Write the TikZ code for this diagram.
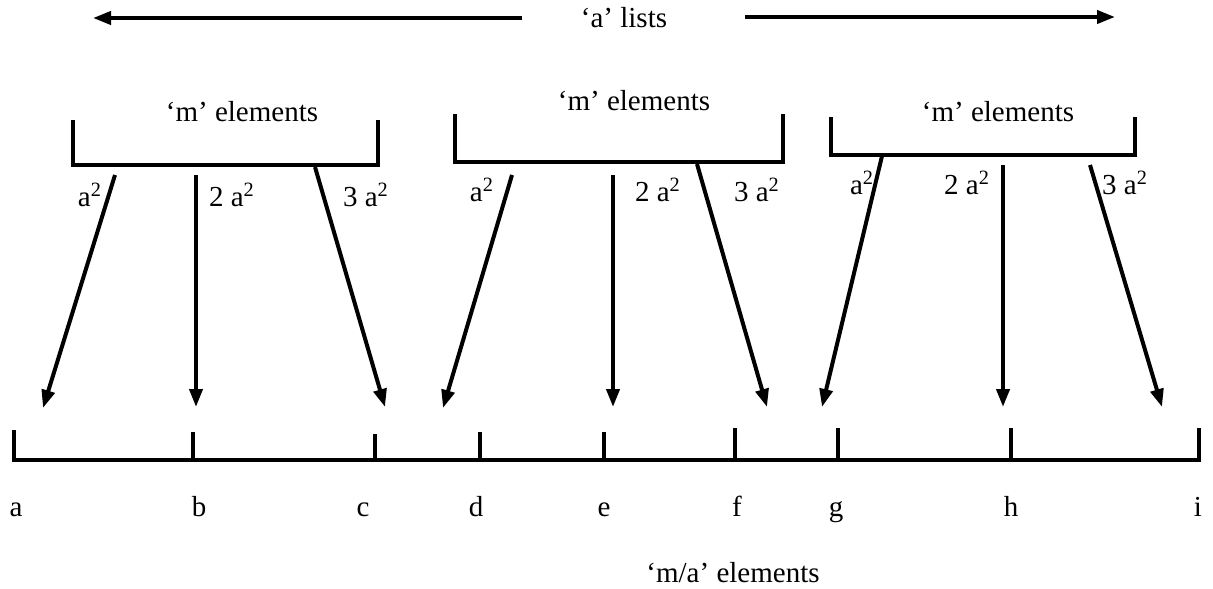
\documentclass[tikz,border=0pt]{standalone}
\usepackage{fontspec}
\setmainfont{Liberation Serif}
\usetikzlibrary{arrows.meta}

\begin{document}
\begin{tikzpicture}[x=0.5pt,y=-0.5pt,
        font=\fontsize{14.5}{17}\selectfont,
        line width=2pt,
        arr/.style={-{Triangle[length=9pt,width=6.5pt]}},
        brk/.style={line join=miter},
        lbl/.style={anchor=base}]
    \useasboundingbox (0,0) rectangle (1213,588);
    % top: the 'a' lists
    \node (lists) at (624,18) {‘a’ lists};
    \coordinate (la) at (522,18);
    \coordinate (lb) at (93,18);
    \coordinate (ra) at (745,17);
    \coordinate (rb) at (1115,17);
    \draw[arr] (la) -- (lb);
    \draw[arr] (ra) -- (rb);
    % the three brackets
    \draw[brk] (73,120) -- (73,165) -- (378,165) -- (378,120);
    \node (m1) at (242,112) {‘m’ elements};
    \draw[brk] (455,114) -- (455,162) -- (783,162) -- (783,114);
    \node (m2) at (634,101) {‘m’ elements};
    \draw[brk] (831,117) -- (831,155) -- (1135,155) -- (1135,117);
    \node (m3) at (998,112) {‘m’ elements};
    % arrows
    \coordinate (s11) at (115,175); \coordinate (e11) at (43,408);
    \coordinate (s12) at (196,175); \coordinate (e12) at (196,407);
    \coordinate (s13) at (315,167); \coordinate (e13) at (385,407);
    \coordinate (s21) at (512,175); \coordinate (e21) at (443,408);
    \coordinate (s22) at (613,175); \coordinate (e22) at (613,407);
    \coordinate (s23) at (697,164); \coordinate (e23) at (767,407);
    \coordinate (s31) at (882,156); \coordinate (e31) at (822,407);
    \coordinate (s32) at (1003,165); \coordinate (e32) at (1003,407);
    \coordinate (s33) at (1090,165); \coordinate (e33) at (1162,407);
    \draw[arr] (s11) -- (e11);
    \draw[arr] (s12) -- (e12);
    \draw[arr] (s13) -- (e13);
    \draw[arr] (s21) -- (e21);
    \draw[arr] (s22) -- (e22);
    \draw[arr] (s23) -- (e23);
    \draw[arr] (s31) -- (e31);
    \draw[arr] (s32) -- (e32);
    \draw[arr] (s33) -- (e33);
    \node (w11) at (90,195) {a\textsuperscript{2}};
    \node (w12) at (232,195) {2 a\textsuperscript{2}};
    \node (w13) at (366,195) {3 a\textsuperscript{2}};
    \node (w21) at (482,190) {a\textsuperscript{2}};
    \node (w22) at (658,190) {2 a\textsuperscript{2}};
    \node (w23) at (757,190) {3 a\textsuperscript{2}};
    \node (w31) at (862,183) {a\textsuperscript{2}};
    \node (w32) at (967,183) {2 a\textsuperscript{2}};
    \node (w33) at (1125,183) {3 a\textsuperscript{2}};
    % bottom: the 'm/a' elements
    \draw[brk] (14,430) -- (14,460) -- (1199,460) -- (1199,428);
    \foreach \x/\t in {193/432,375/434,480/432,604/432,735/428,838/428,1011/428}
        \draw (\x,\t) -- (\x,460);
    \foreach \x/\n in {16/a,199/b,363/c,476/d,604/e,737/f,836/g,1011/h,1198/i}
        \node[lbl] (\n) at (\x,516) {\n};
    \node (ma) at (733,573) {‘m/a’ elements};
\end{tikzpicture}
\end{document}
